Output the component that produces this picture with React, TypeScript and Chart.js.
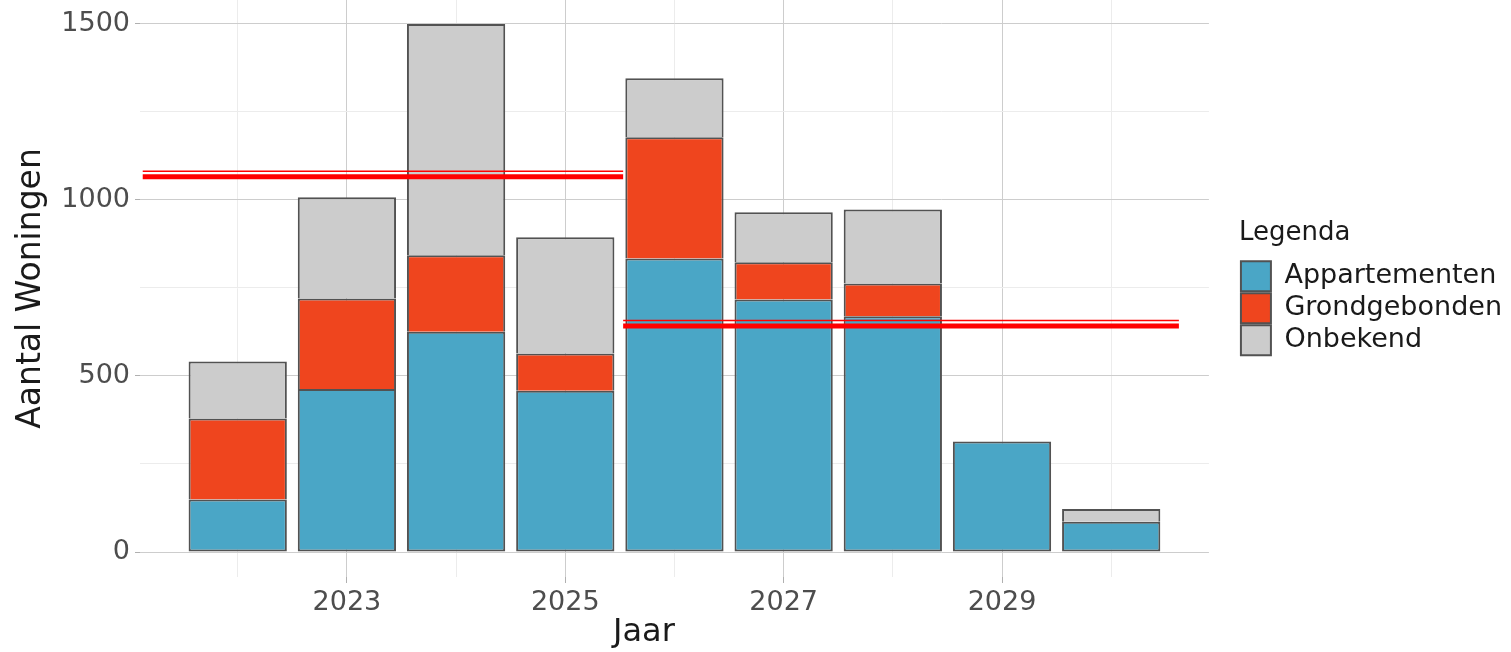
import React, { useEffect, useRef } from 'react';
import { Chart, registerables } from 'chart.js';

Chart.register(...registerables);

// ---- data ----
const years = [2022, 2023, 2024, 2025, 2026, 2027, 2028, 2029, 2030];
const appartementen = [149, 463, 626, 458, 834, 717, 670, 314, 86];
const grondgebonden = [230, 257, 217, 106, 344, 106, 93, 0, 0];
const onbekend = [162, 288, 657, 330, 168, 142, 210, 0, 36];
const seriesLabels = ['Appartementen', 'Grondgebonden', 'Onbekend'];
const yMajorTicks = [0, 500, 1000, 1500];
const yMinorTicks = [250, 750, 1250];
const xLabelledYears = [2023, 2025, 2027, 2029];
// red reference lines drawn over the chart
const refLineValues = [1066, 642];
const refLineStart = [2021.13, 2025.53];
const refLineEnd = [2025.53, 2030.62];

const FONT = 'DejaVu Sans';
const COLORS = ['#4aa6c6', '#ef451e', '#cccccc'];
const BORDER = '#525252';
const LEGEND_GAP = 30;

const refLinesPlugin = {
  id: 'refLines',
  afterDatasetsDraw(chart: any) {
    const { ctx } = chart;
    const x = chart.scales.x;
    const y = chart.scales.y;
    ctx.save();
    ctx.strokeStyle = '#ff0000';
    refLineValues.forEach((v, i) => {
      const x0 = x.getPixelForValue(refLineStart[i]);
      const x1 = x.getPixelForValue(refLineEnd[i]);
      const yp = y.getPixelForValue(v);
      ctx.lineWidth = 5;
      ctx.beginPath();
      ctx.moveTo(x0, yp);
      ctx.lineTo(x1, yp);
      ctx.stroke();
      ctx.lineWidth = 1.5;
      ctx.beginPath();
      ctx.moveTo(x0, yp - 5.5);
      ctx.lineTo(x1, yp - 5.5);
      ctx.stroke();
    });
    ctx.restore();
  },
};

const legendShiftPlugin = {
  id: 'legendShift',
  afterLayout(chart: any) {
    if (chart.legend) {
      chart.legend.left += LEGEND_GAP;
      chart.legend.right += LEGEND_GAP;
    }
  },
};

export default function App() {
  const canvasRef = useRef<HTMLCanvasElement | null>(null);

  useEffect(() => {
    if (!canvasRef.current) return;
    const series = [appartementen, grondgebonden, onbekend];
    const chart = new Chart(canvasRef.current, {
      type: 'bar',
      data: {
        datasets: series.map((vals, i) => ({
          label: seriesLabels[i],
          data: years.map((yr, j) => ({ x: yr, y: vals[j] })),
          backgroundColor: COLORS[i],
          borderColor: BORDER,
          borderWidth: 2,
          borderSkipped: i === 0 ? false : 'start',
          barPercentage: 0.9,
          categoryPercentage: 1,
        })),
      },
      options: {
        responsive: false,
        animation: false,
        events: [],
        layout: { padding: { top: 0, left: 0, bottom: 0, right: 29 } },
        plugins: {
          tooltip: { enabled: false },
          legend: {
            position: 'right',
            align: 'start',
            title: {
              display: true,
              text: 'Legenda',
              position: 'start',
              color: '#1a1a1a',
              font: { family: FONT, size: 26 },
              padding: { top: 220, bottom: 8 },
            },
            labels: {
              boxWidth: 30,
              boxHeight: 30,
              padding: 2,
              color: '#1a1a1a',
              font: { family: FONT, size: 27 },
            },
          },
        },
        scales: {
          x: {
            type: 'linear',
            stacked: true,
            min: 2021.105,
            max: 2030.895,
            offset: false,
            afterBuildTicks: (s: any) => {
              s.ticks = years.map((v) => ({ value: v }));
            },
            afterFit: (s: any) => {
              s.height = 75;
              s.paddingLeft = 0;
              s.paddingRight = 0;
            },
            ticks: {
              autoSkip: false,
              maxRotation: 0,
              padding: 4,
              color: '#4d4d4d',
              font: { family: FONT, size: 27 },
              callback: (v: any) => (xLabelledYears.includes(Number(v)) ? String(v) : ''),
            },
            grid: {
              offset: false,
              lineWidth: 1,
              tickLength: 6,
              color: (c: any) => (xLabelledYears.includes(c.tick?.value) ? '#cdcdcd' : '#ececec'),
              tickColor: (c: any) => (xLabelledYears.includes(c.tick?.value) ? '#b0b0b0' : 'rgba(0,0,0,0)'),
            },
            border: { display: false },
            title: {
              display: true,
              text: 'Jaar      ',
              color: '#1a1a1a',
              font: { family: FONT, size: 32 },
              padding: { top: 0, bottom: 0 },
            },
          },
          y: {
            stacked: true,
            min: -71,
            max: 1568,
            afterBuildTicks: (s: any) => {
              s.ticks = [...yMajorTicks, ...yMinorTicks].sort((a, b) => a - b).map((v) => ({ value: v }));
            },
            afterFit: (s: any) => {
              s.width = 140;
              s.paddingTop = 0;
              s.paddingBottom = 0;
            },
            ticks: {
              autoSkip: false,
              padding: 5,
              color: '#4d4d4d',
              font: { family: FONT, size: 27 },
              callback: (v: any) => (yMajorTicks.includes(Number(v)) ? String(v) : ''),
            },
            grid: {
              lineWidth: 1,
              tickLength: 5,
              color: (c: any) => (yMajorTicks.includes(c.tick?.value) ? '#cdcdcd' : '#ececec'),
              tickColor: (c: any) => (yMajorTicks.includes(c.tick?.value) ? '#b0b0b0' : 'rgba(0,0,0,0)'),
            },
            border: { display: false },
            title: {
              display: true,
              text: 'Aantal Woningen',
              color: '#1a1a1a',
              font: { family: FONT, size: 33 },
              padding: { top: 12, bottom: 0 },
            },
          },
        },
      },
      plugins: [refLinesPlugin, legendShiftPlugin],
    } as any);
    return () => chart.destroy();
  }, []);

  return (
    <div style={{ position: 'fixed', left: 0, top: 0, width: 1511, height: 652, background: '#ffffff' }}>
      <canvas ref={canvasRef} width={1511} height={652} style={{ display: 'block' }} />
    </div>
  );
}
